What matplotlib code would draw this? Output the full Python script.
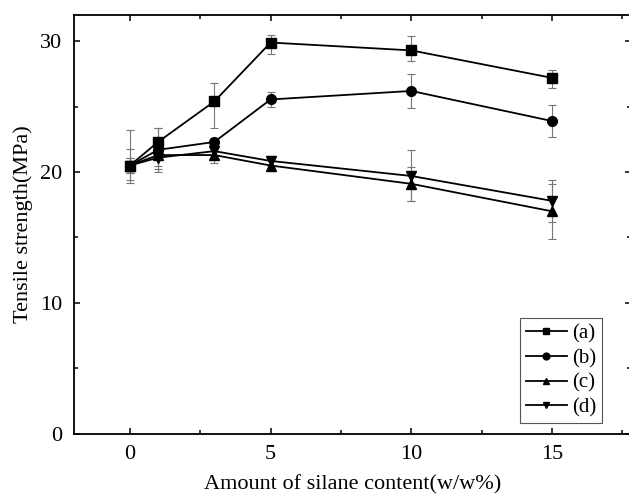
import numpy as np
from matplotlib import pyplot as plt
from matplotlib.ticker import MultipleLocator

plt.rcParams['font.family'] = ['Liberation Serif', 'DejaVu Serif']

# Contenuto di silano (w/w%) e resistenza a trazione (MPa) per le quattro serie
silano = [0, 1, 3, 5, 10, 15]
serie_a = [20.5, 22.3, 25.4, 29.9, 29.3, 27.2]
serie_b = [20.5, 21.7, 22.3, 25.55, 26.2, 23.9]
serie_c = [20.5, 21.3, 21.3, 20.5, 19.1, 17.0]
serie_d = [20.5, 21.1, 21.6, 20.85, 19.7, 17.8]
# barre di errore: sotto / sopra
errori_a_inf = [1.1, 1.1, 2.0, 0.9, 0.8, 0.8]
errori_a_sup = [2.7, 1.1, 1.4, 0.6, 1.1, 0.6]
errori_b = [1.3, 1.7, 0.3, 0.6, 1.3, 1.2]
errori_c = [0.6, 0.8, 0.6, 0.4, 1.3, 2.1]
errori_d = [0.6, 0.9, 0.5, 0.4, 1.95, 1.6]
etichette = ['(a)', '(b)', '(c)', '(d)']
marcatori = ['s', 'o', '^', 'v']

fig = plt.figure(figsize=(6.29, 4.96), dpi=100)
ax = fig.add_axes([0.117, 0.1256, 0.886, 0.844])

errori = [[errori_a_inf, errori_a_sup], errori_b, errori_c, errori_d]
for y, err, m, lab in zip([serie_a, serie_b, serie_c, serie_d],
                          errori, marcatori, etichette):
    ax.errorbar(silano, y, yerr=err, fmt='none', ecolor='#777777',
                elinewidth=0.8, capsize=3, capthick=0.8, zorder=1)
    ax.plot(silano, y, color='black', linewidth=1.3, marker=m,
            markersize=7, markerfacecolor='black', markeredgecolor='black',
            label=lab, zorder=2)

ax.set_xlim(-2, 17.8)
ax.set_ylim(0, 32)
ax.xaxis.set_major_locator(MultipleLocator(5))
ax.xaxis.set_minor_locator(MultipleLocator(2.5))
ax.yaxis.set_major_locator(MultipleLocator(10))
ax.yaxis.set_minor_locator(MultipleLocator(5))
ax.tick_params(which='both', direction='in', top=True, right=True,
               labelsize=16, width=1.1)
ax.tick_params(which='major', length=4, pad=8)
ax.tick_params(which='minor', length=3)
for s in ax.spines.values():
    s.set_linewidth(1.3)

ax.set_xlabel('Amount of silane content(w/w%)', fontsize=16, labelpad=8)
ax.set_ylabel('Tensile strength(MPa)', fontsize=16, labelpad=5)

leg = ax.legend(loc='lower right', bbox_to_anchor=(0.948, 0.026),
                borderaxespad=0, fontsize=15, handlelength=2.0,
                handletextpad=0.25, labelspacing=0.25, fancybox=False,
                framealpha=1, edgecolor='#555555', borderpad=0.25,
                markerscale=0.7)
leg.get_frame().set_linewidth(0.8)

fig.savefig('out.png', dpi=100)
